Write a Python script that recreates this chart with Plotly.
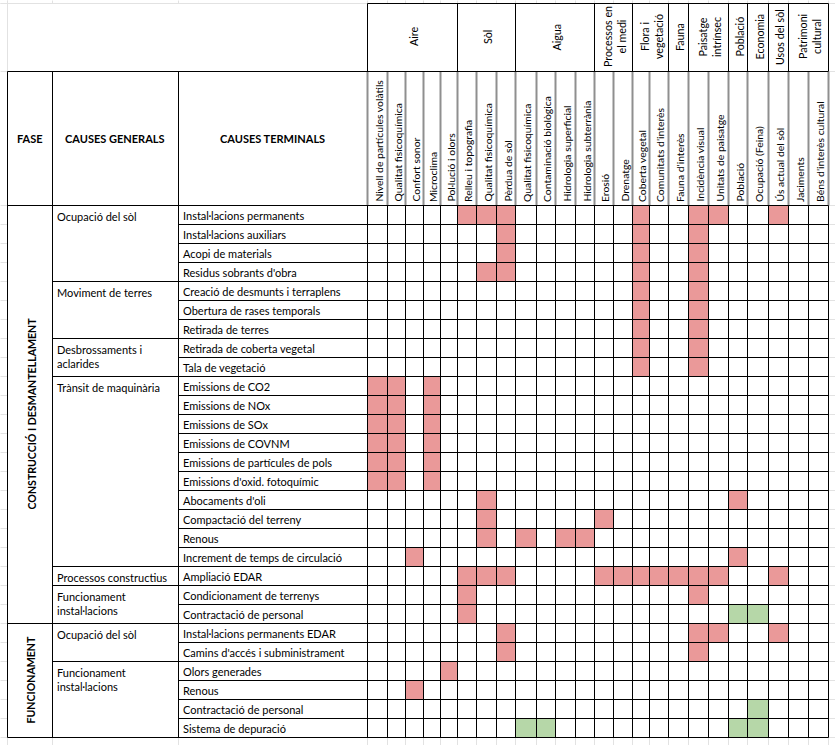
import plotly.graph_objects as go

# ---------------- data ----------------
PHASES = ["CONSTRUCCIÓ I DESMANTELLAMENT", "FUNCIONAMENT"]
PHASE_ROW_COUNTS = [22, 6]

GENERAL_CAUSES = [
    "Ocupació del sòl", "Moviment de terres", "Desbrossaments i\naclarides",
    "Trànsit de maquinària", "Processos constructius", "Funcionament\ninstal·lacions",
    "Ocupació del sòl", "Funcionament\ninstal·lacions",
]
GENERAL_ROW_COUNTS = [4, 3, 2, 10, 1, 2, 2, 4]

TERMINAL_CAUSES = [
    "Instal·lacions permanents", "Instal·lacions auxiliars", "Acopi de materials",
    "Residus sobrants d'obra", "Creació de desmunts i terraplens",
    "Obertura de rases temporals", "Retirada de terres", "Retirada de coberta vegetal",
    "Tala de vegetació", "Emissions de CO2", "Emissions de NOx", "Emissions de SOx",
    "Emissions de COVNM", "Emissions de partícules de pols", "Emissions d'oxid. fotoquímic",
    "Abocaments d'oli", "Compactació del terreny", "Renous",
    "Increment de temps de circulació", "Ampliació EDAR", "Condicionament de terrenys",
    "Contractació de personal", "Instal·lacions permanents EDAR",
    "Camins d'accés i subministrament", "Olors generades", "Renous",
    "Contractació de personal", "Sistema de depuració",
]

FACTOR_GROUPS = [
    "Aire", "Sòl", "Aigua", "Processos en\nel medi", "Flora i\nvegetació", "Fauna",
    "Paisatge\nintrínsec", "Població", "Economia", "Usos del sòl", "Patrimoni\ncultural",
]
GROUP_SIZES = [5, 3, 4, 2, 2, 1, 2, 1, 1, 1, 2]

FACTORS = [
    "Nivell de partícules volàtils", "Qualitat fisicoquímica", "Confort sonor",
    "Microclima", "Pol·lució i olors", "Relleu i topografia", "Qualitat fisicoquímica",
    "Pèrdua de sòl", "Qualitat fisicoquímica", "Contaminació biològica",
    "Hidrologia superficial", "Hidrologia subterrània", "Erosió", "Drenatge",
    "Coberta vegetal", "Comunitats d'interès", "Fauna d'interès", "Incidència visual",
    "Unitats de paisatge", "Població", "Ocupació (Feina)", "Ús actual del sòl",
    "Jaciments", "Béns d'interès cultural",
]

# factor indices with a negative (red) impact, one list per terminal cause
NEGATIVE_IMPACTS = [
    [5, 6, 7, 14, 17, 18, 21], [7, 14, 17], [7, 14, 17], [6, 7, 14, 17],
    [14, 17], [14, 17], [14, 17], [14, 17], [14, 17],
    [0, 1, 3], [0, 1, 3], [0, 1, 3], [0, 1, 3], [0, 1, 3], [0, 1, 3],
    [6, 19], [6, 12], [6, 8, 10, 11], [2, 19],
    [5, 6, 7, 12, 13, 14, 15, 16, 17, 18, 21],
    [5, 17], [5],
    [7, 17, 18, 21], [7, 17],
    [4], [2], [], [],
]
# factor indices with a positive (green) impact
POSITIVE_IMPACTS = [
    [], [], [], [], [], [], [], [], [], [], [], [], [], [], [], [], [], [], [], [],
    [], [19, 20], [], [], [], [], [20], [8, 9, 19, 20],
]

# ---------------- layout geometry (pixels) ----------------
W, H = 835, 745
LEFT_EDGES = [7, 52, 178, 367]
FACTOR_EDGES = [367, 387, 405, 423, 440, 457, 476, 496, 515, 536, 555, 575, 594,
                613, 632, 649, 668, 688, 708, 728, 747, 768, 788, 808, 828]
TOP, GROUP_BOTTOM, SUB_BOTTOM = 3, 71, 205
ROW_H = 19
OFF = 0.5

FONT = "Lato, 'Open Sans', sans-serif"
FS = 11
FS_ROT = 10.4
RED = "#ea9999"
GREEN = "#b6d7a8"
BLACK = "#000000"
SUBGRAY = "#8f8f8f"
FAINT = "#e2e2e2"

n_rows = len(TERMINAL_CAUSES)
n_cols = len(FACTORS)
row_edges = [SUB_BOTTOM + ROW_H * i for i in range(n_rows + 1)]
RIGHT = FACTOR_EDGES[-1]
BOTTOM = row_edges[-1]

# impact matrix
z = [[0] * n_cols for _ in range(n_rows)]
for r, cols in enumerate(NEGATIVE_IMPACTS):
    for c in cols:
        z[r][c] = 1
for r, cols in enumerate(POSITIVE_IMPACTS):
    for c in cols:
        z[r][c] = 2

fig = go.Figure()
fig.add_trace(go.Heatmap(
    z=z,
    x=[e + OFF for e in FACTOR_EDGES],
    y=[e + OFF for e in row_edges],
    zmin=0, zmax=2,
    colorscale=[[0, "#ffffff"], [0.33, "#ffffff"], [0.33, RED], [0.67, RED],
                [0.67, GREEN], [1, GREEN]],
    showscale=False, hoverinfo="skip",
))

shapes = []


def line(x0, y0, x1, y1, color=BLACK, width=1):
    shapes.append(dict(type="line", xref="x", yref="y", x0=x0 + OFF, y0=y0 + OFF,
                       x1=x1 + OFF, y1=y1 + OFF, line=dict(color=color, width=width)))


# faint spreadsheet gridlines outside the table
all_x = LEFT_EDGES[:-1] + FACTOR_EDGES
all_y = [TOP, GROUP_BOTTOM] + row_edges
for x in all_x:
    line(x, 0, x, TOP, FAINT)
    line(x, BOTTOM, x, H, FAINT)
line(0, TOP, LEFT_EDGES[-1], TOP, FAINT)
line(LEFT_EDGES[0], 0, LEFT_EDGES[0], GROUP_BOTTOM, FAINT)
for y in all_y:
    line(0, y, LEFT_EDGES[0], y, FAINT)
    line(RIGHT, y, W, y, FAINT)

# group header box
line(FACTOR_EDGES[0], TOP, RIGHT, TOP)
gi = 0
group_bounds = []
for s in GROUP_SIZES:
    group_bounds.append((FACTOR_EDGES[gi], FACTOR_EDGES[gi + s]))
    gi += s
for x0, x1 in group_bounds:
    line(x0, TOP, x0, GROUP_BOTTOM)
line(RIGHT, TOP, RIGHT, GROUP_BOTTOM)

# sub-header vertical separators (grey)
for x in FACTOR_EDGES:
    line(x, GROUP_BOTTOM, x, SUB_BOTTOM, SUBGRAY, 2)

# left header verticals
for x in LEFT_EDGES[:-1]:
    line(x, GROUP_BOTTOM, x, BOTTOM)
line(LEFT_EDGES[-1], SUB_BOTTOM, LEFT_EDGES[-1], BOTTOM)
line(LEFT_EDGES[0], GROUP_BOTTOM, RIGHT, GROUP_BOTTOM)
line(LEFT_EDGES[0], SUB_BOTTOM, RIGHT, SUB_BOTTOM)

# matrix verticals
for x in FACTOR_EDGES[1:]:
    line(x, SUB_BOTTOM, x, BOTTOM)

# horizontal row lines
phase_b = set()
acc = 0
for n in PHASE_ROW_COUNTS:
    acc += n
    phase_b.add(acc)
gen_b = set()
acc = 0
for n in GENERAL_ROW_COUNTS:
    acc += n
    gen_b.add(acc)
for i in range(1, n_rows + 1):
    if i in phase_b:
        xs = LEFT_EDGES[0]
    elif i in gen_b:
        xs = LEFT_EDGES[1]
    else:
        xs = LEFT_EDGES[2]
    line(xs, row_edges[i], RIGHT, row_edges[i])

annotations = []


def text(x, y, s, xanchor="left", yanchor="middle", angle=0, bold=False, size=FS, align="left"):
    annotations.append(dict(
        x=x, y=y, xref="x", yref="y", text=(f"<b>{s}</b>" if bold else s),
        showarrow=False, xanchor=xanchor, yanchor=yanchor, textangle=angle,
        align=align, font=dict(family=FONT, size=size, color=BLACK), borderpad=0,
    ))


# header titles
hy = (GROUP_BOTTOM + SUB_BOTTOM) / 2
text((LEFT_EDGES[0] + LEFT_EDGES[1]) / 2, hy, "FASE", "center", bold=True)
text((LEFT_EDGES[1] + LEFT_EDGES[2]) / 2, hy, "CAUSES GENERALS", "center", bold=True)
text((LEFT_EDGES[2] + LEFT_EDGES[3]) / 2, hy, "CAUSES TERMINALS", "center", bold=True)

# group labels
for (x0, x1), g in zip(group_bounds, FACTOR_GROUPS):
    text((x0 + x1) / 2 + 1, (TOP + GROUP_BOTTOM) / 2, g.replace("\n", "<br>"),
         "center", "middle", angle=-90, align="center", size=FS_ROT + 0.3)

# factor labels
for i, f in enumerate(FACTORS):
    text((FACTOR_EDGES[i] + FACTOR_EDGES[i + 1]) / 2 + 1.5, SUB_BOTTOM - 2, f,
         "center", "bottom", angle=-90, size=FS_ROT)

# terminal causes
for i, t in enumerate(TERMINAL_CAUSES):
    text(LEFT_EDGES[2] + 3.5, row_edges[i] + ROW_H / 2 + 1, t)

# general causes
acc = 0
for g, n in zip(GENERAL_CAUSES, GENERAL_ROW_COUNTS):
    text(LEFT_EDGES[1] + 3.5, row_edges[acc] + 3.5, g.replace("\n", "<br>"), "left", "top")
    acc += n

# phases
acc = 0
for p, n in zip(PHASES, PHASE_ROW_COUNTS):
    yc = (row_edges[acc] + row_edges[acc + n]) / 2
    text((LEFT_EDGES[0] + LEFT_EDGES[1]) / 2 + 1, yc, p, "center", "middle",
         angle=-90, bold=True, size=10.6)
    acc += n

fig.update_layout(
    width=W, height=H, autosize=False,
    margin=dict(l=0, r=0, t=0, b=0),
    paper_bgcolor="white", plot_bgcolor="white",
    xaxis=dict(range=[0, W], visible=False, fixedrange=True),
    yaxis=dict(range=[H, 0], visible=False, fixedrange=True),
    shapes=shapes, annotations=annotations, showlegend=False,
)

fig.write_html("out.html", config={"displayModeBar": False, "staticPlot": True},
               post_script="document.body.style.margin='0';document.body.style.overflow='hidden';")
